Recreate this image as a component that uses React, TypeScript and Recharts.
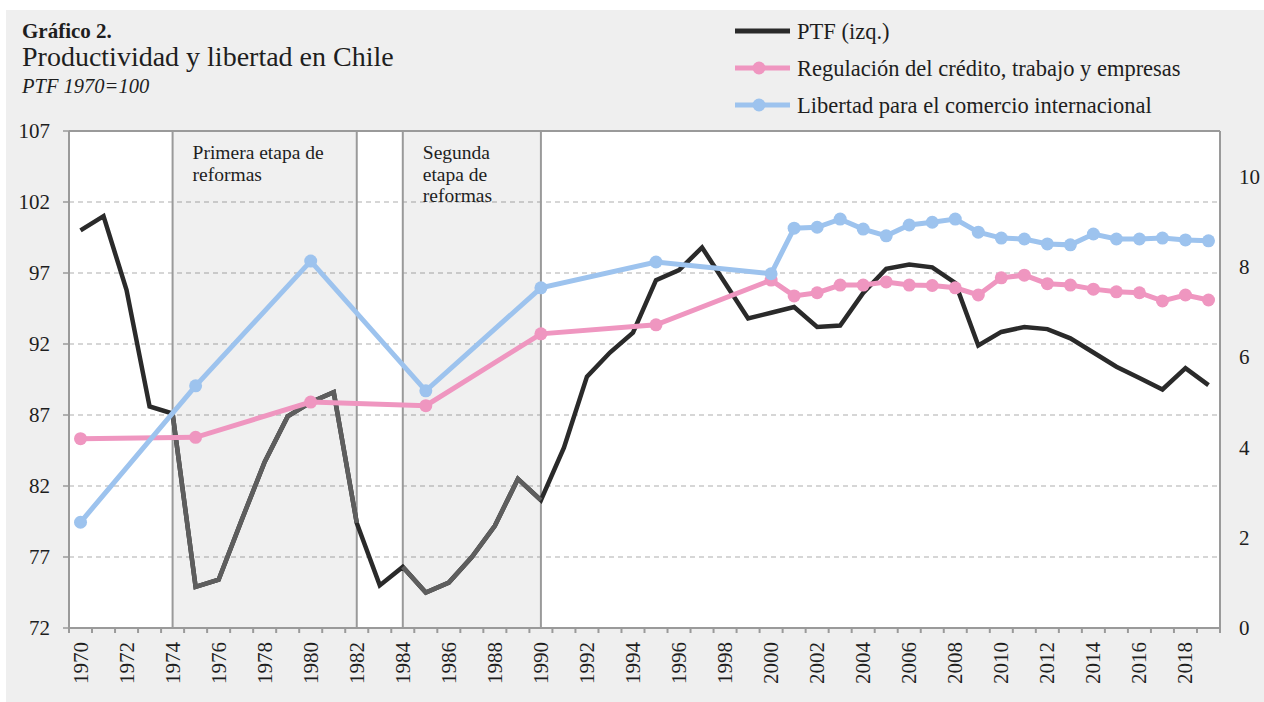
import React from "react";
import {
  ComposedChart,
  Line,
  XAxis,
  YAxis,
  CartesianGrid,
  ReferenceArea,
  ReferenceLine,
} from "recharts";

const years = [
  1970, 1971, 1972, 1973, 1974, 1975, 1976, 1977, 1978, 1979,
  1980, 1981, 1982, 1983, 1984, 1985, 1986, 1987, 1988, 1989,
  1990, 1991, 1992, 1993, 1994, 1995, 1996, 1997, 1998, 1999,
  2000, 2001, 2002, 2003, 2004, 2005, 2006, 2007, 2008, 2009,
  2010, 2011, 2012, 2013, 2014, 2015, 2016, 2017, 2018, 2019,
];

// PTF (left axis), 1970 = 100
const ptf = [
  100, 101.0, 95.8, 87.6, 87.1, 74.9, 75.4, 79.6, 83.7, 86.9,
  87.9, 88.6, 79.4, 75.0, 76.3, 74.5, 75.2, 77.0, 79.2, 82.5,
  81.0, 84.7, 89.7, 91.4, 92.8, 96.5, 97.2, 98.8, 96.3, 93.8,
  94.2, 94.6, 93.2, 93.3, 95.6, 97.3, 97.6, 97.4, 96.3, 91.9,
  92.85, 93.2, 93.05, 92.4, 91.4, 90.4, 89.6, 88.8, 90.3, 89.1,
];

// Regulación del crédito, trabajo y empresas (right axis)
const regulacion = [
  4.19, null, null, null, null, 4.22, null, null, null, null,
  5.0, null, null, null, null, 4.92, null, null, null, null,
  6.51, null, null, null, null, 6.71, null, null, null, null,
  7.7, 7.35, 7.42, 7.59, 7.59, 7.66, 7.59, 7.58, 7.53, 7.37,
  7.75, 7.81, 7.62, 7.59, 7.5, 7.44, 7.42, 7.24, 7.37, 7.26,
];

// Libertad para el comercio internacional (right axis)
const comercio = [
  2.34, null, null, null, null, 5.36, null, null, null, null,
  8.12, null, null, null, null, 5.25, null, null, null, null,
  7.53, null, null, null, null, 8.1, null, null, null, null,
  7.84, 8.85, 8.87, 9.05, 8.83, 8.68, 8.92, 8.98, 9.05, 8.76,
  8.63, 8.61, 8.5, 8.48, 8.72, 8.61, 8.61, 8.63, 8.59, 8.57,
];

const leftTicks = [72, 77, 82, 87, 92, 97, 102, 107];
const rightTicks = [0, 2, 4, 6, 8, 10];
const yearLabels = [
  1970, 1972, 1974, 1976, 1978, 1980, 1982, 1984, 1986, 1988, 1990, 1992,
  1994, 1996, 1998, 2000, 2002, 2004, 2006, 2008, 2010, 2012, 2014, 2016, 2018,
];

const periods = [
  { from: 1974, to: 1982, label: ["Primera etapa de", "reformas"] },
  { from: 1984, to: 1990, label: ["Segunda", "etapa de", "reformas"] },
];

const legendItems = [
  { name: "PTF (izq.)", color: "#2a2a2a", dot: false },
  { name: "Regulación del crédito, trabajo y empresas", color: "#ef96c0", dot: true },
  { name: "Libertad para el comercio internacional", color: "#9dc3ee", dot: true },
];

const inPeriod = (y: number) => periods.some((p) => y >= p.from && y <= p.to);

const data = years.map((year, i) => ({
  year,
  ptf: ptf[i],
  ptfShade: inPeriod(year) ? ptf[i] : null,
  reg: regulacion[i],
  trade: comercio[i],
}));

const boundaryTicks = [...years.map((y) => y - 0.5), years[years.length - 1] + 0.5];

const FONT = '"Liberation Serif", "Times New Roman", serif';
const W = 1264;
const H = 702;
const AXIS = "#9a9a9a";
const TEXT = "#1e1e1e";

const YearTick = (props: any) => {
  const { x, y, payload } = props;
  return (
    <text
      x={x}
      y={y}
      transform={`rotate(-90 ${x} ${y})`}
      textAnchor="end"
      dominantBaseline="central"
      fontSize={21}
      fill={TEXT}
      fontFamily={FONT}
    >
      {payload.value}
    </text>
  );
};

const EmptyTick = () => <g />;

const AreaLabel = (props: any) => {
  const { viewBox, lines } = props;
  const x = viewBox.x + 20;
  const y = viewBox.y + 28;
  return (
    <text x={x} y={y} fontSize={19.5} fill={TEXT} fontFamily={FONT}>
      {lines.map((l: string, i: number) => (
        <tspan key={i} x={x} dy={i === 0 ? 0 : 21.5}>
          {l}
        </tspan>
      ))}
    </text>
  );
};

export default function App() {
  return (
    <div
      style={{
        position: "absolute",
        left: 0,
        top: 0,
        width: W,
        height: H,
        background: "#ffffff",
        overflow: "hidden",
        fontFamily: FONT,
      }}
    >
      <div
        style={{
          position: "absolute",
          left: 6,
          top: 10,
          right: 0,
          bottom: 0,
          background: "#efefef",
        }}
      />
      <div style={{ position: "absolute", left: 0, top: 0 }}>
        <ComposedChart
          width={W}
          height={H}
          data={data}
          margin={{ top: 131, right: 0, bottom: 0, left: 0 }}
        >
          <CartesianGrid
            xAxisId="a"
            yAxisId="left"
            vertical={false}
            stroke="#c9c9c9"
            strokeDasharray="5 4"
            strokeWidth={1.5}
            fill="#ffffff"
          />
          <XAxis
            xAxisId="b"
            dataKey="year"
            type="number"
            domain={[1969.5, 2019.5]}
            allowDataOverflow
            ticks={yearLabels}
            interval={0}
            tick={YearTick}
            tickSize={0}
            tickMargin={9}
            tickLine={false}
            axisLine={false}
            height={69}
          />
          <XAxis
            xAxisId="a"
            dataKey="year"
            type="number"
            domain={[1969.5, 2019.5]}
            allowDataOverflow
            ticks={boundaryTicks}
            interval={0}
            tick={EmptyTick}
            tickSize={5}
            tickLine={{ stroke: AXIS, strokeWidth: 2 }}
            axisLine={{ stroke: AXIS, strokeWidth: 2 }}
            height={5}
          />
          <YAxis
            yAxisId="left"
            domain={[72, 107]}
            ticks={leftTicks}
            interval={0}
            allowDataOverflow
            width={69}
            tickSize={6}
            tickMargin={13}
            tick={{ fontSize: 21, fill: TEXT, fontFamily: FONT }}
            tickLine={{ stroke: AXIS, strokeWidth: 1.5 }}
            axisLine={{ stroke: AXIS, strokeWidth: 2 }}
          />
          <YAxis
            yAxisId="right"
            orientation="right"
            domain={[0, 11]}
            ticks={rightTicks}
            interval={0}
            allowDataOverflow
            width={44}
            tickSize={6}
            tickMargin={13}
            tick={{ fontSize: 21, fill: TEXT, fontFamily: FONT, textAnchor: "start" }}
            tickLine={false}
            axisLine={{ stroke: AXIS, strokeWidth: 2 }}
          />
          <ReferenceLine
            xAxisId="a"
            yAxisId="left"
            y={107}
            stroke={AXIS}
            strokeWidth={2}
          />
          {periods.map((p) => (
            <ReferenceArea
              key={p.from}
              xAxisId="a"
              yAxisId="left"
              x1={p.from}
              x2={p.to}
              y1={72}
              y2={107}
              fill="#000000"
              fillOpacity={0.06}
              stroke={AXIS}
              strokeWidth={2}
              label={<AreaLabel lines={p.label} />}
            />
          ))}
          <Line
            xAxisId="a"
            yAxisId="left"
            dataKey="ptf"
            type="linear"
            stroke="#2a2a2a"
            strokeWidth={4.5}
            dot={false}
            isAnimationActive={false}
          />
          <Line
            xAxisId="a"
            yAxisId="left"
            dataKey="ptfShade"
            type="linear"
            stroke="#5e5e5e"
            strokeWidth={4.5}
            dot={false}
            connectNulls={false}
            isAnimationActive={false}
          />
          <Line
            xAxisId="a"
            yAxisId="right"
            dataKey="reg"
            type="linear"
            stroke="#ef96c0"
            strokeWidth={5}
            dot={{ r: 6.5, fill: "#ef96c0", stroke: "#ef96c0", strokeWidth: 0 }}
            connectNulls
            isAnimationActive={false}
          />
          <Line
            xAxisId="a"
            yAxisId="right"
            dataKey="trade"
            type="linear"
            stroke="#9dc3ee"
            strokeWidth={5}
            dot={{ r: 6.5, fill: "#9dc3ee", stroke: "#9dc3ee", strokeWidth: 0 }}
            connectNulls
            isAnimationActive={false}
          />
        </ComposedChart>
      </div>
      <svg
        width={W}
        height={H}
        style={{ position: "absolute", left: 0, top: 0, pointerEvents: "none" }}
      >
        <text x={22} y={38} fontSize={21} fontWeight="bold" fill={TEXT} fontFamily={FONT}>
          Gráfico 2.
        </text>
        <text x={22} y={66} fontSize={28} fill={TEXT} fontFamily={FONT}>
          Productividad y libertad en Chile
        </text>
        <text x={22} y={93} fontSize={20.5} fontStyle="italic" fill={TEXT} fontFamily={FONT}>
          PTF 1970=100
        </text>
        {legendItems.map((item, i) => {
          const cy = 31 + i * 37;
          return (
            <g key={item.name}>
              <line x1={735} x2={790} y1={cy} y2={cy} stroke={item.color} strokeWidth={5} />
              {item.dot && <circle cx={759} cy={cy} r={6.5} fill={item.color} />}
              <text x={797} y={cy + 7.5} fontSize={22.5} fill={TEXT} fontFamily={FONT}>
                {item.name}
              </text>
            </g>
          );
        })}
      </svg>
    </div>
  );
}
